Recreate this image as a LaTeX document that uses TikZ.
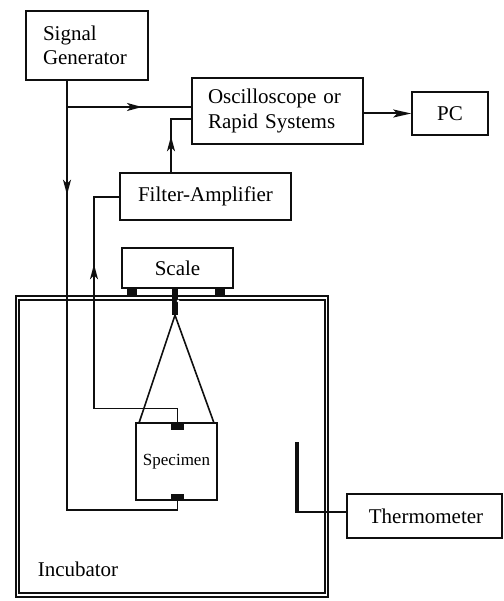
\documentclass[tikz,border=0pt]{standalone}
\usepackage{fontspec}
\setmainfont{Liberation Serif}
\usetikzlibrary{arrows.meta, decorations.markings}
\definecolor{InkBlack}{RGB}{15, 15, 15}
\tikzset{
    blockbox/.style={draw=InkBlack, line width=1.5pt, inner sep=0pt, font=\fontsize{21}{24.5}\selectfont},
    wire/.style={InkBlack, line width=1.6pt},
    pad/.style={fill=InkBlack, inner sep=0pt},
    flowtip/.style={postaction={decorate, decoration={markings, mark=at position #1 with {\arrow{Stealth[length=15pt, width=8pt, inset=4pt]}}}}},
}
\begin{document}
\begin{tikzpicture}[x=1pt, y=-1pt]
    \useasboundingbox (0,0) rectangle (503,601);
    % blocks
    \node[blockbox, minimum width=122pt, minimum height=69pt, text width=88pt, align=left] (siggen) at (87,45.5) {Signal\\Generator};
    \node[blockbox, minimum width=171pt, minimum height=66pt, text width=139pt, align=left] (osc) at (277.5,111) {Oscilloscope or\\Rapid Systems};
    \node[blockbox, minimum width=76pt, minimum height=43pt] (pc) at (450,113.5) {PC};
    \node[blockbox, minimum width=171pt, minimum height=47pt] (filter) at (205.5,196.5) {Filter-Amplifier};
    \node[blockbox, minimum width=111pt, minimum height=40pt] (scale) at (177.5,268) {Scale};
    \node[blockbox, minimum width=155pt, minimum height=44pt] (thermo) at (424.5,516) {\hspace{3pt}Thermometer};
    % incubator wall
    \node[draw=InkBlack, double=white, line width=1.7pt, double distance=1.8pt, minimum width=309pt, minimum height=297pt, inner sep=0pt] (incubator) at (172,446.5) {};
    \node[font=\fontsize{21}{24}\selectfont] (incubatortext) at (78,569) {Incubator};
    % specimen and its grips
    \node[blockbox, minimum width=81pt, minimum height=77pt, font=\fontsize{17}{20}\selectfont] (specimen) at (176.5,461.5) {Specimen};
    \node[pad, minimum width=13pt, minimum height=7pt] (padtop) at (177.5,426.5) {};
    \node[pad, minimum width=13pt, minimum height=6pt] (padbot) at (177.5,497) {};
    % scale feet and hanger
    \node[pad, minimum width=10pt, minimum height=8pt] (footl) at (132,292) {};
    \node[pad, minimum width=10pt, minimum height=8pt] (footr) at (220,292) {};
    \node[pad, minimum width=6pt, minimum height=27pt] (hanger) at (175,301.5) {};
    \node[fill=white, circle, inner sep=0pt, minimum size=3pt] (hangereye) at (178,301) {};
    \coordinate (strapl) at (139,423);
    \coordinate (strapr) at (214,423);
    \draw[wire] (hanger.south) -- (strapl);
    \draw[wire] (hanger.south) -- (strapr);
    % thermometer probe
    \node[pad, minimum width=4pt, minimum height=71pt] (probe) at (297,477) {};
    \draw[wire] (probe.south) ++(0,-1) coordinate (probeend) -- (thermo.west |- probeend);
    % signal lines
    \coordinate (sigbend) at (67,510);
    \coordinate (sigjoin) at (67,107);
    \draw[wire, flowtip=114pt] (siggen.south -| sigbend) -- (sigbend) -- (padbot.south |- sigbend) -- (padbot.south);
    \draw[wire, flowtip=75pt] (sigjoin) -- (osc.west |- sigjoin);
    \coordinate (filtbend) at (94,197);
    \coordinate (gripbend) at (94,408.5);
    \draw[wire, flowtip=242pt] (padtop.north) -- (padtop.north |- gripbend) -- (gripbend) -- (filtbend) -- (filter.west |- filtbend);
    \coordinate (oscbend) at (171,119);
    \draw[wire, flowtip=36pt] (filter.north -| oscbend) -- (oscbend) -- (osc.west |- oscbend);
    \draw[wire, line width=2pt, -{Stealth[length=18pt, width=8pt, inset=4pt]}] (osc.east |- pc.west) -- (pc.west);
\end{tikzpicture}
\end{document}
